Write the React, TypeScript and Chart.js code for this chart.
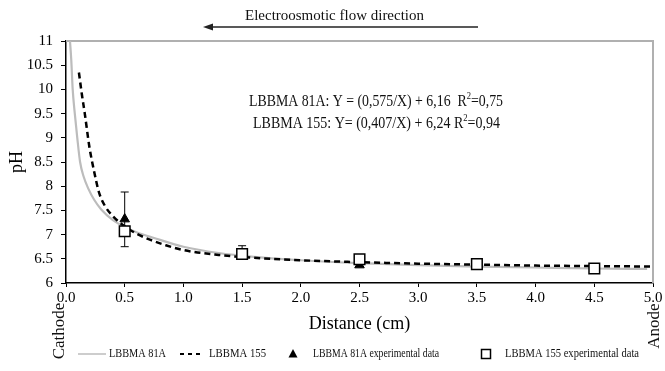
import React, { useEffect, useRef } from "react";
import { Chart, registerables } from "chart.js";

Chart.register(...registerables);

const FONT = "'Liberation Serif', 'Times New Roman', Times, serif";

// Fitted curves
const curve81A_x = [0.034, 0.045, 0.057, 0.075, 0.096, 0.12, 0.15, 0.19, 0.24, 0.3, 0.4, 0.5, 0.6, 0.75, 1.0, 1.3, 1.6, 2.0, 2.5, 3.0, 3.5, 4.0, 4.5, 4.95];
const curve81A_y = [11.0, 10.6, 10.0, 9.5, 9.0, 8.5, 8.2, 7.95, 7.72, 7.52, 7.3, 7.16, 7.05, 6.93, 6.75, 6.62, 6.54, 6.47, 6.41, 6.37, 6.34, 6.32, 6.3, 6.29];

const curve155_x = [0.11, 0.135, 0.16, 0.2, 0.24, 0.28, 0.33, 0.4, 0.5, 0.6, 0.72, 0.85, 1.0, 1.3, 1.6, 2.0, 2.5, 3.0, 3.5, 4.0, 4.5, 5.0];
const curve155_y = [10.35, 9.9, 9.5, 8.8, 8.3, 7.88, 7.6, 7.38, 7.17, 7.02, 6.89, 6.78, 6.68, 6.58, 6.52, 6.47, 6.43, 6.4, 6.38, 6.36, 6.35, 6.34];

// Experimental data
const expX = [0.5, 1.5, 2.5, 3.5, 4.5];
const exp81A = [7.32, 6.6, 6.37, 6.35, 6.28];
const exp155 = [7.07, 6.6, 6.49, 6.39, 6.3];
const err81A_low: (number | null)[] = [6.75, 6.5, null, null, null];
const err81A_high: (number | null)[] = [7.88, 6.77, null, null, null];

const seriesLabels = ["LBBMA 81A", "LBBMA 155", "LBBMA 81A experimental data", "LBBMA 155 experimental data"];
const titleText = "Electroosmotic flow direction";
const eq1 = ["LBBMA 81A: Y = (0,575/X) + 6,16  R", "2", "=0,75"];
const eq2 = ["LBBMA 155: Y= (0,407/X) + 6,24 R", "2", "=0,94"];
const yTickLabels = ["6", "6.5", "7", "7.5", "8", "8.5", "9", "9.5", "10", "10.5", "11"];
const xTickLabels = ["0.0", "0.5", "1.0", "1.5", "2.0", "2.5", "3.0", "3.5", "4.0", "4.5", "5.0"];

function fitText(ctx: CanvasRenderingContext2D, text: string, x: number, y: number, w: number, size: number) {
  ctx.save();
  ctx.font = `${size}px ${FONT}`;
  const m = ctx.measureText(text).width;
  ctx.translate(x, y);
  ctx.scale(w / m, 1);
  ctx.textBaseline = "middle";
  ctx.textAlign = "left";
  ctx.fillText(text, 0, 0);
  ctx.restore();
}

function richText(ctx: CanvasRenderingContext2D, parts: string[], x: number, y: number, w: number, size: number) {
  ctx.save();
  const sizes = parts.map((_, i) => (i === 1 ? size * 0.62 : size));
  const widths = parts.map((p, i) => {
    ctx.font = `${sizes[i]}px ${FONT}`;
    return ctx.measureText(p).width;
  });
  const total = widths.reduce((a, b) => a + b, 0);
  ctx.translate(x, y);
  ctx.scale(w / total, 1);
  ctx.textBaseline = "middle";
  ctx.textAlign = "left";
  let cx = 0;
  parts.forEach((p, i) => {
    ctx.font = `${sizes[i]}px ${FONT}`;
    ctx.fillText(p, cx, i === 1 ? -size * 0.38 : 0);
    cx += widths[i];
  });
  ctx.restore();
}

function rotText(ctx: CanvasRenderingContext2D, text: string, x: number, y: number, size: number) {
  ctx.save();
  ctx.font = `${size}px ${FONT}`;
  ctx.translate(x, y);
  ctx.rotate(-Math.PI / 2);
  ctx.textAlign = "center";
  ctx.textBaseline = "middle";
  ctx.fillText(text, 0, 0);
  ctx.restore();
}

const framePlugin = {
  id: "frame",
  beforeDatasetsDraw(chart: any) {
    const { ctx, chartArea: a } = chart;
    ctx.save();
    ctx.strokeStyle = "#b0b0b0";
    ctx.lineWidth = 2;
    ctx.beginPath();
    ctx.moveTo(a.left, a.top);
    ctx.lineTo(a.right, a.top);
    ctx.lineTo(a.right, a.bottom);
    ctx.stroke();
    ctx.restore();
  },
};

const errorBarPlugin = {
  id: "errorBars",
  afterDatasetDraw(chart: any, args: any) {
    if (args.index !== 2) return;
    const { ctx } = chart;
    const xs = chart.scales.x;
    const ys = chart.scales.y;
    ctx.save();
    ctx.strokeStyle = "#000";
    ctx.lineWidth = 1;
    expX.forEach((xv, i) => {
      const lo = err81A_low[i];
      const hi = err81A_high[i];
      if (lo == null || hi == null) return;
      const px = xs.getPixelForValue(xv);
      const y1 = ys.getPixelForValue(lo);
      const y2 = ys.getPixelForValue(hi);
      ctx.beginPath();
      ctx.moveTo(px, y1);
      ctx.lineTo(px, y2);
      ctx.moveTo(px - 4, y1);
      ctx.lineTo(px + 4, y1);
      ctx.moveTo(px - 4, y2);
      ctx.lineTo(px + 4, y2);
      ctx.stroke();
    });
    ctx.restore();
  },
};

const annotationPlugin = {
  id: "annotations",
  afterDraw(chart: any) {
    const { ctx } = chart;
    ctx.save();
    ctx.fillStyle = "#111";
    // flow direction title and arrow
    fitText(ctx, titleText, 245, 16, 179, 15);
    ctx.strokeStyle = "#222";
    ctx.lineWidth = 1.5;
    ctx.beginPath();
    ctx.moveTo(210, 27);
    ctx.lineTo(478, 27);
    ctx.stroke();
    ctx.fillStyle = "#222";
    ctx.beginPath();
    ctx.moveTo(203, 27);
    ctx.lineTo(213, 23.5);
    ctx.lineTo(213, 30.5);
    ctx.closePath();
    ctx.fill();

    ctx.fillStyle = "#111";
    richText(ctx, eq1, 249, 102, 254, 16);
    richText(ctx, eq2, 253, 124, 247, 16);

    rotText(ctx, "Cathode", 60, 331, 17);
    rotText(ctx, "Anode", 655, 326, 17);

    // legend
    const ly = 354;
    ctx.strokeStyle = "#bdbdbd";
    ctx.lineWidth = 1.5;
    ctx.beginPath();
    ctx.moveTo(78, ly);
    ctx.lineTo(106, ly);
    ctx.stroke();
    ctx.strokeStyle = "#000";
    ctx.lineWidth = 2;
    ctx.setLineDash([4, 4]);
    ctx.beginPath();
    ctx.moveTo(180, ly);
    ctx.lineTo(204, ly);
    ctx.stroke();
    ctx.setLineDash([]);
    ctx.fillStyle = "#000";
    ctx.beginPath();
    ctx.moveTo(293, ly - 5);
    ctx.lineTo(297.5, ly + 3.5);
    ctx.lineTo(288.5, ly + 3.5);
    ctx.closePath();
    ctx.fill();
    ctx.fillStyle = "#fff";
    ctx.fillRect(481.5, ly - 4.5, 9, 9);
    ctx.lineWidth = 1.5;
    ctx.strokeRect(481.5, ly - 4.5, 9, 9);
    ctx.fillStyle = "#111";
    fitText(ctx, seriesLabels[0], 109, ly, 57, 11.5);
    fitText(ctx, seriesLabels[1], 209, ly, 57, 11.5);
    fitText(ctx, seriesLabels[2], 313, ly, 126, 11.5);
    fitText(ctx, seriesLabels[3], 505, ly, 134, 11.5);
    ctx.restore();
  },
};

export default function App() {
  const ref = useRef<HTMLCanvasElement | null>(null);

  useEffect(() => {
    document.body.style.margin = "0";
    const canvas = ref.current;
    if (!canvas) return;
    const pts = (xs: number[], ys: number[]) => xs.map((x, i) => ({ x, y: ys[i] }));
    const chart = new Chart(canvas, {
      type: "line",
      data: {
        datasets: [
          {
            label: seriesLabels[0],
            data: pts(curve81A_x, curve81A_y),
            borderColor: "#bcbcbc",
            borderWidth: 2.2,
            pointRadius: 0,
            cubicInterpolationMode: "monotone",
            fill: false,
            order: 4,
          },
          {
            label: seriesLabels[1],
            data: pts(curve155_x, curve155_y),
            borderColor: "#000",
            borderWidth: 2.5,
            borderDash: [6, 4],
            pointRadius: 0,
            cubicInterpolationMode: "monotone",
            fill: false,
            order: 3,
          },
          {
            label: seriesLabels[2],
            data: pts(expX, exp81A),
            showLine: false,
            pointStyle: "triangle",
            pointRadius: 5.5,
            backgroundColor: "#000",
            borderColor: "#000",
            borderWidth: 1,
            order: 2,
          },
          {
            label: seriesLabels[3],
            data: pts(expX, exp155),
            showLine: false,
            pointStyle: "rect",
            pointRadius: 7.5,
            backgroundColor: "#fff",
            borderColor: "#000",
            borderWidth: 1.5,
            order: 1,
          },
        ],
      } as any,
      options: {
        responsive: false,
        animation: false,
        devicePixelRatio: 1,
        layout: { padding: { top: 41, right: 12, left: 0, bottom: 0 } },
        plugins: {
          legend: { display: false },
          tooltip: { enabled: false },
          title: { display: false },
        },
        scales: {
          x: {
            type: "linear",
            min: 0,
            max: 5,
            afterFit: (s: any) => {
              s.height = 88;
            },
            ticks: {
              stepSize: 0.5,
              autoSkip: false,
              maxRotation: 0,
              padding: 2,
              color: "#000",
              font: { size: 15, family: FONT },
              callback: (_v: any, i: number) => xTickLabels[i],
            },
            grid: { drawOnChartArea: false, drawTicks: true, tickLength: 4, color: "#000" },
            border: { display: true, color: "#000", width: 1.5 },
            title: {
              display: true,
              text: "Distance (cm)",
              color: "#000",
              font: { size: 18, family: FONT },
              padding: { top: 0, bottom: 36 },
            },
          },
          y: {
            min: 6,
            max: 11,
            afterFit: (s: any) => {
              s.width = 66;
            },
            ticks: {
              stepSize: 0.5,
              padding: 8,
              color: "#000",
              font: { size: 15, family: FONT },
              callback: (_v: any, i: number) => yTickLabels[i],
            },
            grid: { drawOnChartArea: false, drawTicks: true, tickLength: 5, color: "#000" },
            border: { display: true, color: "#000", width: 1.5 },
            title: {
              display: true,
              text: "pH",
              color: "#000",
              font: { size: 18, family: FONT },
              padding: { top: 6, bottom: 0 },
            },
          },
        },
      } as any,
      plugins: [framePlugin, errorBarPlugin, annotationPlugin],
    });
    return () => chart.destroy();
  }, []);

  return (
    <div style={{ width: 665, height: 371, background: "#fff" }}>
      <canvas ref={ref} width={665} height={371} />
    </div>
  );
}
